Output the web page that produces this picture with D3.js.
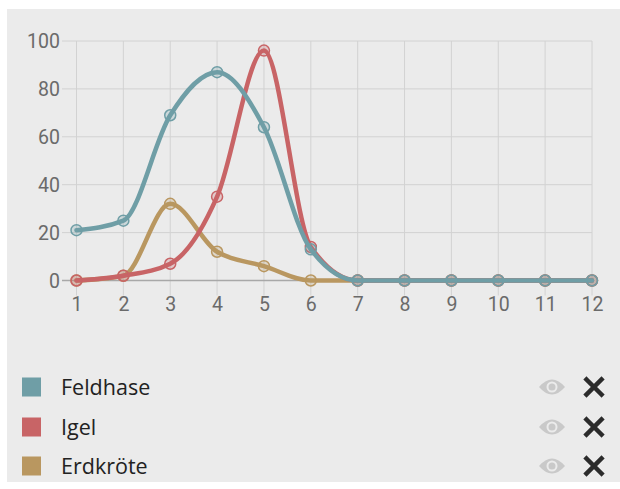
<!DOCTYPE html>
<html><head><meta charset="utf-8">
<script src="https://cdn.jsdelivr.net/npm/d3@7"></script>
<style>
html,body{margin:0;padding:0;background:#fff;}
svg{display:block;}
</style></head>
<body>
<svg id="c" width="620" height="489"></svg>
<script>
const categories = [1,2,3,4,5,6,7,8,9,10,11,12];
const yTicks = [0,20,40,60,80,100];
const seriesNames = ["Feldhase","Igel","Erdkröte"];
const seriesColors = ["#6f9ea6","#c86466","#b99760"];
const feldhase = [21,25,69,87,64,13,0,0,0,0,0,0];
const igel = [0,2,7,35,96,14,0,0,0,0,0,0];
const erdkroete = [0,2,32,12,6,0,0,0,0,0,0,0];
const seriesValues = [feldhase, igel, erdkroete];

const svg = d3.select("#c");
svg.append("rect").attr("x",7).attr("y",9).attr("width",613).attr("height",473).attr("fill","#ebebeb");

const x = d3.scaleLinear().domain([1,12]).range([76.5,592]);
const y = d3.scaleLinear().domain([0,100]).range([280.5,41]);

const g = svg.append("g");
g.selectAll("line.vg").data(categories).enter().append("line")
  .attr("x1",d=>x(d)).attr("x2",d=>x(d)).attr("y1",y(100)).attr("y2",y(0)+15)
  .attr("stroke","#d2d2d2").attr("stroke-width",1);
g.selectAll("line.hg").data(yTicks).enter().append("line")
  .attr("x1",62).attr("x2",x(12)).attr("y1",d=>y(d)).attr("y2",d=>y(d))
  .attr("stroke",d=>d===0?"#a8a8a8":"#d2d2d2").attr("stroke-width",d=>d===0?1.5:1);

const yAxis = d3.axisLeft(y).tickValues(yTicks).tickSize(0).tickPadding(0);
const ya = svg.append("g").attr("transform","translate(60,0)").call(yAxis);
ya.select(".domain").remove();
ya.selectAll("text").attr("font-family","Roboto").attr("font-size",19.5).attr("fill","#6a6a6a").attr("dy","0.35em");

const xAxis = d3.axisBottom(x).tickValues(categories).tickSize(0).tickPadding(0).tickFormat(d3.format("d"));
const xa = svg.append("g").attr("transform","translate(0,297)").call(xAxis);
xa.select(".domain").remove();
xa.selectAll("text").attr("font-family","Roboto").attr("font-size",19.5).attr("fill","#6a6a6a").attr("dy","0.71em");

const line = d3.line().x((d,i)=>x(categories[i])).y(d=>y(d)).curve(d3.curveMonotoneX);

for (let s = seriesValues.length-1; s>=0; s--) {
  const vals = seriesValues[s];
  const col = seriesColors[s];
  const sg = svg.append("g");
  sg.append("path").attr("d",line(vals)).attr("fill","none").attr("stroke",col)
    .attr("stroke-width",4.5).attr("stroke-linejoin","round").attr("stroke-linecap","round");
  sg.selectAll("circle").data(vals).enter().append("circle")
    .attr("cx",(d,i)=>x(categories[i])).attr("cy",d=>y(d)).attr("r",5.5)
    .attr("fill",col).attr("fill-opacity",0.25).attr("stroke",col).attr("stroke-width",1.5);
}

const leg = svg.append("g");
const rowY = [387,427,466];
seriesNames.forEach((n,i)=>{
  const r = leg.append("g").attr("transform",`translate(0,${rowY[i]})`);
  r.append("rect").attr("x",22).attr("y",-9.5).attr("width",19).attr("height",19).attr("fill",seriesColors[i]);
  r.append("text").attr("x",61).attr("y",0).attr("dy","0.35em").text(n)
    .attr("font-family","Open Sans").attr("font-size",21.5).attr("fill","#222");
  const e = r.append("g").attr("transform","translate(552,0)");
  e.append("path").attr("d","M-13,0 Q0,-15 13,0 Q0,15 -13,0 Z").attr("fill","#c9c9c9");
  e.append("circle").attr("r",4.5).attr("fill","none").attr("stroke","#ebebeb").attr("stroke-width",2);
  const xx = r.append("g").attr("transform","translate(594,0)");
  xx.append("path").attr("d","M-7.5,-7.5L7.5,7.5M7.5,-7.5L-7.5,7.5").attr("stroke","#2b2b2b").attr("stroke-width",4.5).attr("stroke-linecap","square");
});
</script>
</body></html>
